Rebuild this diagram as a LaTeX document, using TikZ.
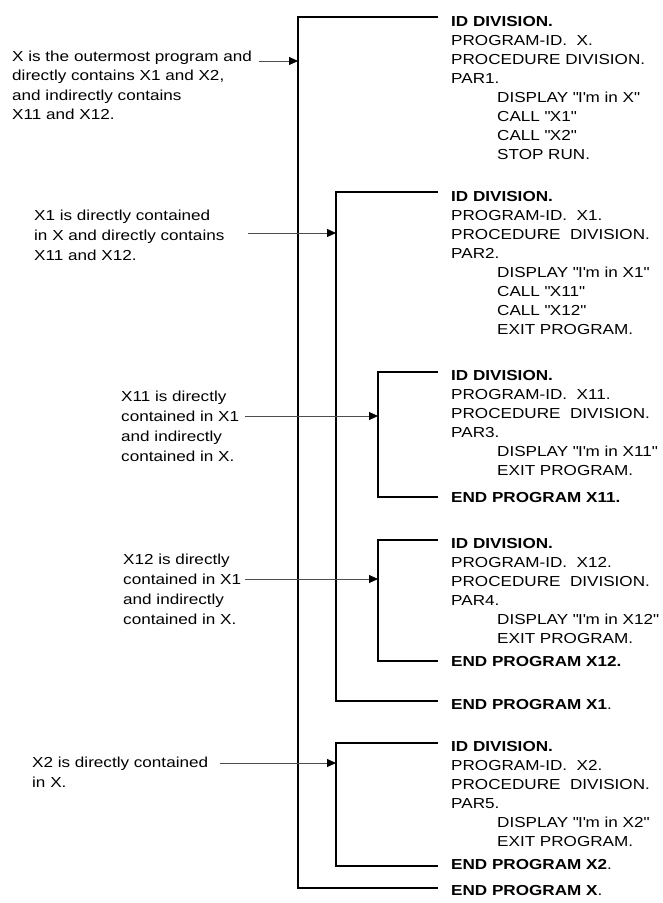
\documentclass[tikz,border=0pt]{standalone}
\usepackage{fontspec}
\setmainfont[FakeStretch=1.18]{Liberation Sans}
\usetikzlibrary{arrows.meta}
\newcommand\codeln[4]{\node[#1] (#2) at (#3) {#4};}
\newcommand\dq{\textquotedbl}
\newcommand\sq{\textquotesingle}
\begin{document}
\begin{tikzpicture}[x=1pt,y=-1pt,
  txt/.style={anchor=base west, inner sep=0pt, font=\fontsize{14.5}{16}\selectfont},
  btxt/.style={txt, font=\fontsize{14.5}{16}\selectfont\bfseries},
  bracket/.style={line width=1.8pt, black, line join=miter},
  pointer/.style={line width=0.8pt, black!70, -{Triangle[length=9pt,width=8pt,color=black]}}]
\useasboundingbox (0,0) rectangle (662,903);

% ---- code: program X
\codeln{btxt}{xa}{451,26}{ID DIVISION.}
\codeln{txt}{xb}{451,45}{PROGRAM-ID.\ \ X.}
\codeln{txt}{xc}{451,64}{PROCEDURE DIVISION.}
\codeln{txt}{xd}{451,83}{PAR1.}
\codeln{txt}{xe}{497,102}{DISPLAY \dq I\sq m in X\dq}
\codeln{txt}{xf}{497,121}{CALL \dq X1\dq}
\codeln{txt}{xg}{497,140}{CALL \dq X2\dq}
\codeln{txt}{xh}{497,159}{STOP RUN.}

% ---- code: program X1
\codeln{btxt}{ya}{451,201}{ID DIVISION.}
\codeln{txt}{yb}{451,220}{PROGRAM-ID.\ \ X1.}
\codeln{txt}{yc}{451,239}{PROCEDURE\ \ DIVISION.}
\codeln{txt}{yd}{451,258}{PAR2.}
\codeln{txt}{ye}{497,277}{DISPLAY \dq I\sq m in X1\dq}
\codeln{txt}{yf}{497,296}{CALL \dq X11\dq}
\codeln{txt}{yg}{497,315}{CALL \dq X12\dq}
\codeln{txt}{yh}{497,334}{EXIT PROGRAM.}

% ---- code: program X11
\codeln{btxt}{za}{451,380}{ID DIVISION.}
\codeln{txt}{zb}{451,399}{PROGRAM-ID.\ \ X11.}
\codeln{txt}{zc}{451,418}{PROCEDURE\ \ DIVISION.}
\codeln{txt}{zd}{451,437}{PAR3.}
\codeln{txt}{ze}{497,456}{DISPLAY \dq I\sq m in X11\dq}
\codeln{txt}{zf}{497,475}{EXIT PROGRAM.}
\codeln{btxt}{zg}{451,502}{END PROGRAM X11.}

% ---- code: program X12
\codeln{btxt}{wa}{451,548}{ID DIVISION.}
\codeln{txt}{wb}{451,567}{PROGRAM-ID.\ \ X12.}
\codeln{txt}{wc}{451,586}{PROCEDURE\ \ DIVISION.}
\codeln{txt}{wd}{451,605}{PAR4.}
\codeln{txt}{we}{497,624}{DISPLAY \dq I\sq m in X12\dq}
\codeln{txt}{wf}{497,643}{EXIT PROGRAM.}
\codeln{btxt}{wg}{451,666}{END PROGRAM X12.}

\codeln{txt}{yend}{451,709}{\bfseries END PROGRAM X1\mdseries.}

% ---- code: program X2
\codeln{btxt}{va}{451,751}{ID DIVISION.}
\codeln{txt}{vb}{451,770}{PROGRAM-ID.\ \ X2.}
\codeln{txt}{vc}{451,789}{PROCEDURE\ \ DIVISION.}
\codeln{txt}{vd}{451,808}{PAR5.}
\codeln{txt}{ve}{497,827}{DISPLAY \dq I\sq m in X2\dq}
\codeln{txt}{vf}{497,846}{EXIT PROGRAM.}
\codeln{txt}{vg}{451,869}{\bfseries END PROGRAM X2\mdseries.}

\codeln{txt}{xend}{451,895}{\bfseries END PROGRAM X\mdseries.}

% ---- labels
\codeln{txt}{la1}{12,61}{X is the outermost program and}
\codeln{txt}{la2}{12,80.5}{directly contains X1 and X2,}
\codeln{txt}{la3}{12,100}{and indirectly contains}
\codeln{txt}{la4}{12,119.5}{X11 and X12.}

\codeln{txt}{lb1}{34,220}{X1 is directly contained}
\codeln{txt}{lb2}{34,240}{in X and directly contains}
\codeln{txt}{lb3}{34,260}{X11 and X12.}

\codeln{txt}{lc1}{121,401}{X11 is directly}
\codeln{txt}{lc2}{121,421}{contained in X1}
\codeln{txt}{lc3}{121,441}{and indirectly}
\codeln{txt}{lc4}{121,461}{contained in X.}

\codeln{txt}{ld1}{123,564}{X12 is directly}
\codeln{txt}{ld2}{123,584}{contained in X1}
\codeln{txt}{ld3}{123,604}{and indirectly}
\codeln{txt}{ld4}{123,624}{contained in X.}

\codeln{txt}{le1}{32,767}{X2 is directly contained}
\codeln{txt}{le2}{32,787}{in X.}

% ---- bracket corners
\coordinate (oT) at (438,17);  \coordinate (oB) at (438,888);
\coordinate (aT) at (438,192); \coordinate (aB) at (438,701);
\coordinate (bT) at (438,372); \coordinate (bB) at (438,497);
\coordinate (cT) at (438,540); \coordinate (cB) at (438,661);
\coordinate (dT) at (438,743); \coordinate (dB) at (438,866);

\draw[bracket] (oT) -- (298,17) -- (298,888) -- (oB);
\draw[bracket] (aT) -- (336,192) -- (336,701) -- (aB);
\draw[bracket] (bT) -- (378,372) -- (378,497) -- (bB);
\draw[bracket] (cT) -- (378,540) -- (378,661) -- (cB);
\draw[bracket] (dT) -- (336,743) -- (336,866) -- (dB);

% ---- pointers
\coordinate (pXs) at (259,61);  \coordinate (pXe) at (298,61);
\coordinate (pAs) at (248,233); \coordinate (pAe) at (336,233);
\coordinate (pBs) at (245,416); \coordinate (pBe) at (378,416);
\coordinate (pCs) at (245,579); \coordinate (pCe) at (378,579);
\coordinate (pDs) at (220,763); \coordinate (pDe) at (336,763);
\draw[pointer] (pXs) -- (pXe);
\draw[pointer] (pAs) -- (pAe);
\draw[pointer] (pBs) -- (pBe);
\draw[pointer] (pCs) -- (pCe);
\draw[pointer] (pDs) -- (pDe);
\end{tikzpicture}
\end{document}
